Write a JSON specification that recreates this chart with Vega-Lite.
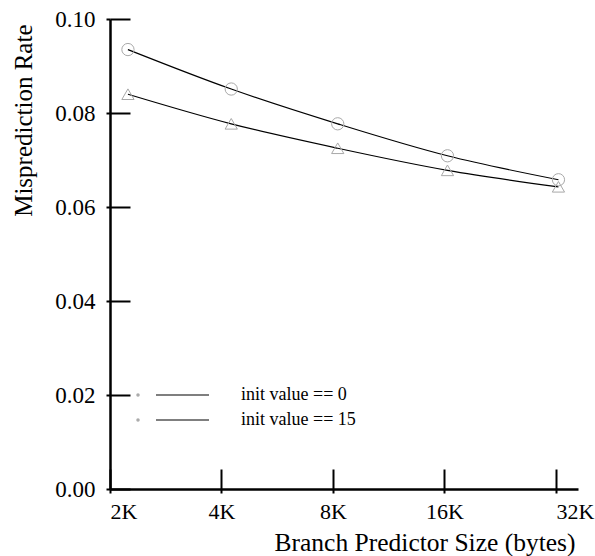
{
  "$schema": "https://vega.github.io/schema/vega-lite/v6.json",
  "width": 468,
  "height": 470,
  "autosize": {"type": "none"},
  "padding": {"left": 110, "top": 19, "right": 17, "bottom": 67},
  "background": "white",
  "config": {
    "view": {"stroke": null},
    "font": "Liberation Serif",
    "axis": {"grid": false, "domainColor": "black", "tickColor": "black", "labelColor": "black", "titleColor": "black", "domainWidth": 2.5, "tickWidth": 2, "labelFont": "Liberation Serif", "titleFont": "Liberation Serif", "titleFontWeight": "normal"},
    "legend": {"labelFont": "Liberation Serif"}
  },
  "data": {
    "values": [
      {"size_kb": 2.236, "rate": 0.0935, "series": "init value == 0"},
      {"size_kb": 4.25, "rate": 0.0851, "series": "init value == 0"},
      {"size_kb": 8.24, "rate": 0.0777, "series": "init value == 0"},
      {"size_kb": 16.3, "rate": 0.0709, "series": "init value == 0"},
      {"size_kb": 32.5, "rate": 0.0658, "series": "init value == 0"},
      {"size_kb": 2.236, "rate": 0.0840, "series": "init value == 15"},
      {"size_kb": 4.25, "rate": 0.0777, "series": "init value == 15"},
      {"size_kb": 8.24, "rate": 0.0725, "series": "init value == 15"},
      {"size_kb": 16.3, "rate": 0.0678, "series": "init value == 15"},
      {"size_kb": 32.5, "rate": 0.0643, "series": "init value == 15"}
    ]
  },
  "layer": [
    {
      "mark": {"type": "line", "interpolate": "monotone", "strokeWidth": 1.2},
      "encoding": {
        "x": {
          "field": "size_kb", "type": "quantitative",
          "scale": {"type": "log", "base": 2, "domain": [2, 36.7], "nice": false},
          "axis": {
            "orient": "bottom",
            "values": [2, 4, 8, 16, 32],
            "labelExpr": "datum.value + 'K'",
            "labelFlush": false,
            "labelFont": "Liberation Serif",
            "labelAlign": {"condition": {"test": "datum.value == 2 || datum.value == 32", "value": "left"}, "value": "center"},
            "tickSize": 4,
            "labelPadding": 8,
            "labelFontSize": 22,
            "title": "Branch Predictor Size (bytes)",
            "titleAnchor": "end",
            "titleFontSize": 25.5,
            "titlePadding": 8,
            "titleX": 465
          }
        },
        "y": {
          "field": "rate", "type": "quantitative",
          "scale": {"domain": [0, 0.1], "nice": false},
          "axis": {
            "orient": "left",
            "values": [0, 0.02, 0.04, 0.06, 0.08, 0.1],
            "format": ".2f",
            "labelFont": "Liberation Serif",
            "tickSize": 4,
            "labelPadding": 11,
            "labelFontSize": 23,
            "title": "Misprediction Rate",
            "titleAnchor": "end",
            "titleFontSize": 25,
            "titlePadding": 18,
            "titleY": 5
          }
        },
        "color": {
          "field": "series", "type": "nominal",
          "scale": {"domain": ["init value == 0", "init value == 15"], "range": ["black", "black"]},
          "legend": {
            "orient": "none", "legendX": 19, "legendY": 367, "title": null,
            "labelFont": "Liberation Serif", "labelFontSize": 18, "labelOpacity": 0,
            "rowPadding": 7, "labelOffset": 94, "symbolSize": 4,
            "encode": {"symbols": {"update": {"shape": {"value": "M18,0L71,0"}, "size": {"value": 4}, "strokeWidth": {"value": 1.2}, "opacity": {"value": 1}}}}
          }
        }
      }
    },
    {
      "mark": {"type": "point", "filled": false, "size": 150, "strokeWidth": 1, "opacity": 1},
      "encoding": {
        "x": {
          "field": "size_kb", "type": "quantitative",
          "axis": {"orient": "bottom", "values": [2, 4, 8, 16, 32], "labels": false, "domain": false, "title": null, "tickSize": -20}
        },
        "y": {
          "field": "rate", "type": "quantitative",
          "axis": {"orient": "left", "values": [0, 0.02, 0.04, 0.06, 0.08, 0.1], "labels": false, "domain": false, "title": null, "tickSize": -20}
        },
        "shape": {
          "condition": {"test": "datum.series === 'init value == 15'", "value": "triangle-up"},
          "value": "circle"
        },
        "color": {
          "field": "series", "type": "nominal",
          "scale": {"domain": ["init value == 0", "init value == 15"], "range": ["#a8a8a8", "#a8a8a8"]},
          "legend": {
            "orient": "none", "legendX": 19, "legendY": 367, "title": null,
            "labelFont": "Liberation Serif", "labelFontSize": 18, "labelColor": "black",
            "rowPadding": 7, "labelOffset": 94, "symbolSize": 4,
            "encode": {"symbols": {"update": {
              "shape": {"value": {"expr": "datum.value === 'init value == 0' ? 'M-6,0A6,6 0 1,0 6,0A6,6 0 1,0 -6,0M78,0A6,6 0 1,0 90,0A6,6 0 1,0 78,0' : 'M0,-6.5L-6.5,5L6.5,5ZM84,-6.5L77.5,5L90.5,5Z'"}},
              "size": {"value": 4}, "strokeWidth": {"value": 1}, "fill": {"value": "transparent"}, "opacity": {"value": 1}}}}
          }
        }
      }
    }
  ],
  "resolve": {
    "scale": {"color": "independent"},
    "legend": {"color": "independent"},
    "axis": {"x": "independent", "y": "independent"}
  }
}
